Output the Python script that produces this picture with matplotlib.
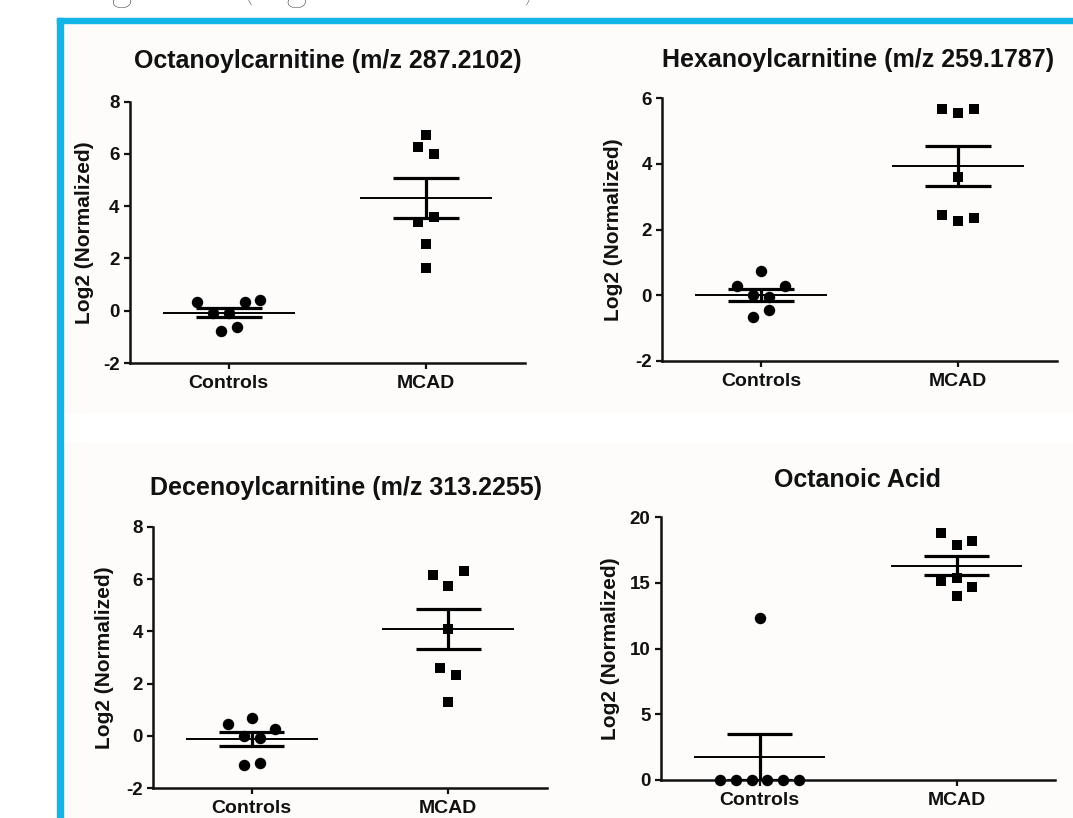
import matplotlib
matplotlib.use('Agg')
import matplotlib.pyplot as plt
from matplotlib.patches import Rectangle
import numpy as np

plt.rcParams['font.family'] = ['Liberation Sans', 'DejaVu Sans']
plt.rcParams['font.weight'] = 'bold'
plt.rcParams['axes.unicode_minus'] = False

# data
groups = ['Controls', 'MCAD']
titles = ['Octanoylcarnitine (m/z 287.2102)', 'Hexanoylcarnitine (m/z 259.1787)',
          'Decenoylcarnitine (m/z 313.2255)', 'Octanoic Acid']
ylabel = 'Log2 (Normalized)'

octc_controls = [0.34, -0.10, -0.10, 0.34, 0.41, -0.77, -0.61]
octc_mcad = [6.73, 6.25, 5.99, 3.38, 3.60, 2.54, 1.65]
hexc_controls = [0.28, 0.75, 0.28, 0.00, -0.04, -0.45, -0.67]
hexc_mcad = [5.67, 5.54, 5.67, 3.61, 2.45, 2.27, 2.35]
decc_controls = [0.46, 0.68, 0.28, 0.00, -0.09, -1.11, -1.04]
decc_mcad = [6.15, 6.32, 5.75, 4.09, 2.61, 2.33, 1.31]
octa_controls = [0.0, 0.0, 0.0, 0.0, 0.0, 0.0, 12.36]
octa_mcad = [18.78, 17.89, 18.22, 15.18, 15.36, 14.72, 14.01]

# horizontal spread of the dots (in slots, like the scatter dot plot layout)
octc_slots = ([-2, -1, 0, 1, 2, -0.5, 0.5], [0, -0.5, 0.5, -0.5, 0.5, 0, 0])
hexc_slots = ([-1.5, 0, 1.5, -0.5, 0.5, 0.5, -0.5], [-1, 0, 1, 0, -1, 0, 1])
decc_slots = ([-1.5, 0, 1.5, -0.5, 0.5, -0.5, 0.5], [-1, 1, 0, 0, -0.5, 0.5, 0])
octa_slots = ([-2.5, -1.5, -0.5, 0.5, 1.5, 2.5, 0], [-1, 0, 1, -1, 0, 1, 0])

W, H = 1073, 818
fig = plt.figure(figsize=(W / 100, H / 100), dpi=100)
fig.patch.set_facecolor('white')

# off-white panel background + cyan frame
bg = '#fdfcfa'
fig.add_artist(Rectangle((62 / W, 1 - 412 / H), 1 - 62 / W, (412 - 22) / H,
                         transform=fig.transFigure, color=bg, zorder=-5))
fig.add_artist(Rectangle((62 / W, 0), 1 - 62 / W, 1 - 443 / H,
                         transform=fig.transFigure, color=bg, zorder=-5))
cyan = '#12b5e5'
fig.add_artist(Rectangle((57 / W, 1 - 22.5 / H), 1 - 57 / W, 4.2 / H,
                         transform=fig.transFigure, color=cyan, zorder=5))
fig.add_artist(Rectangle((57 / W, 0), 5.5 / W, 1 - 18.3 / H,
                         transform=fig.transFigure, color=cyan, zorder=5))

# caption cut off at the top edge (as in the source image)
fig.text(78 / W, 1.0, 'Figure 1 (high resolution)', fontsize=31, family='Lato',
         weight='light', color='#222222', va='baseline', ha='left')

slot_w = 0.08


def dot_panel(ax, ctrl, mcad, slots, ylim, yticks):
    for i, (vals, sl, marker, size) in enumerate([(ctrl, slots[0], 'o', 68),
                                                  (mcad, slots[1], 's', 56)]):
        vals = np.array(vals)
        x = i + np.array(sl) * slot_w
        ax.scatter(x, vals, marker=marker, s=size, color='black', linewidths=0,
                   clip_on=False, zorder=3)
        m = vals.mean()
        sem = vals.std(ddof=1) / np.sqrt(len(vals))
        ax.hlines(m, i - 0.335, i + 0.335, color='black', lw=1.4, zorder=4)
        ax.hlines([m - sem, m + sem], i - 0.167, i + 0.167, color='black', lw=2.3, zorder=4)
        ax.vlines(i, m - sem, m + sem, color='black', lw=2.3, zorder=4)
    ax.set_xlim(-0.5, 1.5)
    ax.set_ylim(*ylim)
    ax.set_yticks(yticks)
    ax.set_xticks([0, 1])
    ax.set_xticklabels(groups, fontsize=14, fontweight='bold')
    for lab in ax.get_yticklabels():
        lab.set_fontsize(13.5)
        lab.set_fontweight('bold')
    ax.spines['top'].set_visible(False)
    ax.spines['right'].set_visible(False)
    for s in ['left', 'bottom']:
        ax.spines[s].set_linewidth(1.8)
        ax.spines[s].set_color('#111111')
    ax.tick_params(axis='both', direction='out', length=4.5, width=1.6, colors='#111111')
    ax.tick_params(axis='y', pad=3)
    ax.tick_params(axis='x', pad=4)
    ax.set_facecolor('none')


def px_axes(x0, x1, ytop, ybot):
    return fig.add_axes([x0 / W, 1 - ybot / H, (x1 - x0) / W, (ybot - ytop) / H])


panels = [
    (px_axes(130, 525, 101.7, 363), octc_controls, octc_mcad, octc_slots, (-2, 8), [-2, 0, 2, 4, 6, 8],
     titles[0], 327.5, 68, -0.114),
    (px_axes(662.3, 1056.7, 98.3, 361), hexc_controls, hexc_mcad, hexc_slots, (-2, 6), [-2, 0, 2, 4, 6],
     titles[1], 858.5, 67.5, -0.125),
    (px_axes(153.3, 546.7, 526.7, 788.3), decc_controls, decc_mcad, decc_slots, (-2, 8), [-2, 0, 2, 4, 6, 8],
     titles[2], 346, 495, -0.123),
    (px_axes(661, 1055, 517.3, 780), octa_controls, octa_mcad, octa_slots, (0, 20), [0, 5, 10, 15, 20],
     titles[3], 857, 487, -0.129),
]

for ax, ctrl, mcad, slots, ylim, yticks, title, tx, ty, lx in panels:
    dot_panel(ax, ctrl, mcad, slots, ylim, yticks)
    fig.text(tx / W, 1 - ty / H, title, ha='center', va='baseline', fontsize=18,
             fontweight='bold', color='#111111')
    ax.text(lx, 0.5, ylabel, transform=ax.transAxes, rotation=90, ha='center',
            va='center', fontsize=15, fontweight='bold', color='#111111')

fig.savefig('out.png', dpi=100)
